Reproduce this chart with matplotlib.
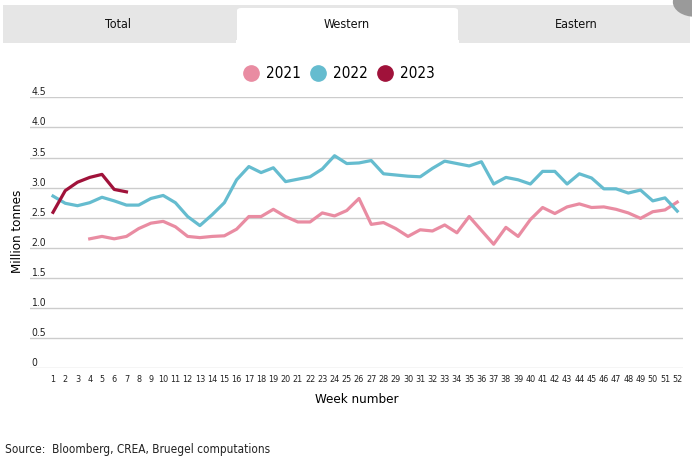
import matplotlib.pyplot as plt
from matplotlib.patches import Rectangle, FancyBboxPatch, Circle
from matplotlib import font_manager

weeks = list(range(1, 53))

weeks_2021 = list(range(4, 53))
values_2021 = [2.15, 2.19, 2.15, 2.19, 2.32, 2.41, 2.44, 2.35, 2.19, 2.17, 2.19, 2.20, 2.31,
               2.52, 2.52, 2.64, 2.52, 2.43, 2.43, 2.58, 2.53, 2.62, 2.82, 2.39, 2.42, 2.32,
               2.19, 2.30, 2.28, 2.38, 2.25, 2.52, 2.29, 2.06, 2.34, 2.19, 2.47, 2.67, 2.57,
               2.68, 2.73, 2.67, 2.68, 2.64, 2.58, 2.49, 2.60, 2.63, 2.76]

values_2022 = [2.86, 2.74, 2.70, 2.75, 2.84, 2.78, 2.71, 2.71, 2.82, 2.87, 2.75, 2.52, 2.37,
               2.55, 2.75, 3.13, 3.35, 3.25, 3.33, 3.10, 3.14, 3.18, 3.31, 3.53, 3.40, 3.41,
               3.45, 3.23, 3.21, 3.19, 3.18, 3.32, 3.44, 3.40, 3.36, 3.43, 3.06, 3.17, 3.13,
               3.06, 3.27, 3.27, 3.06, 3.23, 3.16, 2.98, 2.98, 2.91, 2.96, 2.78, 2.83, 2.61]

weeks_2023 = list(range(1, 8))
values_2023 = [2.59, 2.95, 3.09, 3.17, 3.22, 2.97, 2.93]

yticks = [0, 0.5, 1.0, 1.5, 2.0, 2.5, 3.0, 3.5, 4.0, 4.5]
ytick_labels = ["0", "0.5", "1.0", "1.5", "2.0", "2.5", "3.0", "3.5", "4.0", "4.5"]
tabs = ["Total", "Western", "Eastern"]
series_names = ["2021", "2022", "2023"]
colors = ["#E98CA2", "#65BCCF", "#A0123A"]

# pick a narrow face if one is installed
names = {f.name for f in font_manager.fontManager.ttflist}
if "Liberation Sans Narrow" in names:
    FONT = ["Liberation Sans Narrow", "DejaVu Sans"]
    STRETCH = "normal"
else:
    FONT = ["DejaVu Sans"]
    STRETCH = "condensed"
plt.rcParams['font.family'] = FONT
plt.rcParams['font.stretch'] = STRETCH

W, H = 692, 463
fig = plt.figure(figsize=(W / 100, H / 100), dpi=100)


def fx(px):
    return px / W


def fy(py):
    return 1 - py / H


# tab bar
fig.patches.append(Rectangle((fx(3), fy(43)), fx(687), 38 / H, transform=fig.transFigure,
                             facecolor="#e6e6e6", edgecolor="none"))
fig.patches.append(FancyBboxPatch((fx(237), fy(48)), fx(221), 40 / H,
                                  boxstyle="round,pad=0,rounding_size=0.006",
                                  transform=fig.transFigure, facecolor="white", edgecolor="none"))
fig.patches.append(Rectangle((fx(236), fy(48)), fx(223), 8 / H, transform=fig.transFigure,
                             facecolor="white", edgecolor="none"))
fig.patches.append(Circle((fx(695), fy(2)), 0.032, transform=fig.transFigure,
                          facecolor="#9a9a9a", edgecolor="none"))
for name, px in zip(tabs, [118, 347, 576]):
    fig.text(fx(px), fy(25), name, ha="center", va="center", fontsize=9, color="#111111")

ax = fig.add_axes([fx(30), fy(368.3), fx(653), (368.3 - 97.3) / H])
ax.plot(weeks_2021, values_2021, color=colors[0], lw=2.3, label=series_names[0])
ax.plot(weeks, values_2022, color=colors[1], lw=2.3, label=series_names[1])
ax.plot(weeks_2023, values_2023, color=colors[2], lw=2.3, label=series_names[2])

ax.set_xlim(-0.88, 52.47)
ax.set_ylim(0, 4.5)
ax.set_yticks(yticks, ytick_labels)
ax.set_xticks(weeks, [str(w) for w in weeks])
for y in yticks:
    ax.axhline(y, color="#cccccc", lw=1, zorder=0)
for s in ax.spines.values():
    s.set_visible(False)
ax.tick_params(axis="y", length=0, labelsize=7.5, labelcolor="#222222")
ax.tick_params(axis="x", length=0, pad=5, labelsize=6.5, labelcolor="#222222")
for lab in ax.get_yticklabels():
    lab.set_horizontalalignment("left")
    lab.set_verticalalignment("bottom")
ax.yaxis.set_tick_params(pad=-1)
ax.set_xlabel("Week number", fontsize=9.5, labelpad=6)
ax.text(fx(18), 0.5, "Million tonnes", transform=fig.transFigure, rotation=90,
        ha="center", va="center", fontsize=9.5)

leg = fig.legend(handles=ax.get_lines(), labels=series_names, loc="center", ncol=3,
                 bbox_to_anchor=(fx(343), fy(74)), frameon=False, fontsize=11,
                 handlelength=0, handletextpad=1.0, columnspacing=1.1)
for h, c in zip(leg.legend_handles, colors):
    h.set_linestyle("none")
    h.set_marker("o")
    h.set_markersize(11)
    h.set_markerfacecolor(c)
    h.set_markeredgecolor(c)

fig.text(fx(5), fy(450), "Source:  Bloomberg, CREA, Bruegel computations", ha="left",
         va="center", fontsize=8.5, color="#222222")

fig.savefig("out.png", dpi=100)
